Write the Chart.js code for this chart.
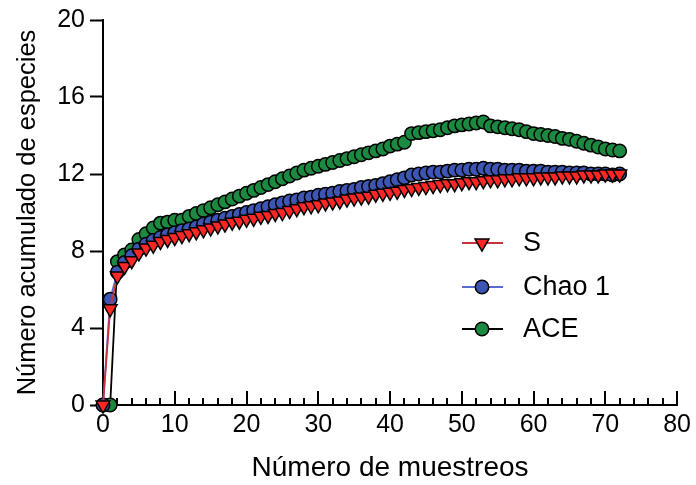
<!DOCTYPE html>
<html>
<head>
<meta charset="utf-8">
<script src="https://cdn.jsdelivr.net/npm/chart.js@4"></script>
<style>
  html, body { margin: 0; padding: 0; background: #fff; }
  #wrap { width: 696px; height: 485px; }
</style>
</head>
<body>
<div id="wrap"><canvas id="chart"></canvas></div>
<script>
// number of samples, 0..72
const samples = Array.from({ length: 73 }, (_, i) => i);

const sValues = [
  0, 5.0, 6.7, 7.2, 7.5, 7.9, 8.15, 8.3, 8.5, 8.6,
  8.7, 8.8, 8.9, 9.0, 9.1, 9.2, 9.3, 9.4, 9.5, 9.55,
  9.65, 9.7, 9.8, 9.85, 9.95, 10.0, 10.1, 10.2, 10.3, 10.35,
  10.4, 10.5, 10.55, 10.6, 10.7, 10.75, 10.8, 10.85, 10.95, 11.0,
  11.05, 11.1, 11.2, 11.25, 11.3, 11.35, 11.4, 11.45, 11.5, 11.5,
  11.55, 11.6, 11.6, 11.65, 11.7, 11.7, 11.75, 11.75, 11.8, 11.8,
  11.8, 11.85, 11.85, 11.85, 11.9, 11.9, 11.9, 11.95, 11.95, 11.95,
  12.0, 12.0, 12.0
];
const chaoValues = [
  0, 5.5, 6.9, 7.4, 7.75, 8.1, 8.35, 8.55, 8.7, 8.85,
  8.95, 9.05, 9.15, 9.25, 9.4, 9.5, 9.6, 9.7, 9.8, 9.9,
  10.0, 10.1, 10.2, 10.3, 10.4, 10.5, 10.6, 10.65, 10.75, 10.8,
  10.9, 10.95, 11.0, 11.1, 11.15, 11.2, 11.3, 11.35, 11.4, 11.5,
  11.6, 11.7, 11.8, 11.95, 12.0, 12.05, 12.1, 12.1, 12.15, 12.2,
  12.2, 12.25, 12.25, 12.3, 12.25, 12.25, 12.2, 12.2, 12.2, 12.15,
  12.15, 12.15, 12.1, 12.1, 12.1, 12.05, 12.05, 12.05, 12.0, 12.0,
  12.0, 11.95, 12.0
];
const aceValues = [
  0, 0, 7.45, 7.8, 8.05, 8.6, 8.9, 9.2, 9.45, 9.5,
  9.6, 9.6, 9.8, 9.95, 10.1, 10.25, 10.4, 10.55, 10.7, 10.85,
  11.0, 11.15, 11.3, 11.45, 11.6, 11.75, 11.9, 12.05, 12.2, 12.3,
  12.4, 12.5, 12.6, 12.7, 12.8, 12.9, 13.0, 13.1, 13.2, 13.3,
  13.45, 13.55, 13.65, 14.1, 14.15, 14.2, 14.25, 14.3, 14.4, 14.5,
  14.55, 14.6, 14.65, 14.7, 14.5, 14.45, 14.4, 14.35, 14.3, 14.2,
  14.1, 14.05, 14.0, 13.95, 13.85, 13.8, 13.7, 13.6, 13.5, 13.4,
  13.3, 13.25, 13.2
];

const FONT = "'Liberation Sans', Arial, sans-serif";

const SERIES = [
  { label: 'S', values: sValues, fill: '#ff2626', line: '#c8323c', style: 'triangle', rotation: 180, radius: 8 },
  { label: 'Chao 1', values: chaoValues, fill: '#3d56b4', line: '#5b6cd0', style: 'circle', rotation: 0, radius: 6.7 },
  { label: 'ACE', values: aceValues, fill: '#1b8a40', line: '#000000', style: 'circle', rotation: 0, radius: 6.7 }
];

// inward ticks on the x axis (major every 10, minor every 2)
const xTickMarks = {
  id: 'xTickMarks',
  beforeDatasetsDraw(chart) {
    const { ctx, scales: { x, y } } = chart;
    const base = y.getPixelForValue(0);
    ctx.save();
    ctx.strokeStyle = '#000';
    ctx.lineWidth = 2;
    for (let v = 2; v <= 80; v += 2) {
      const px = Math.round(x.getPixelForValue(v));
      const len = v % 10 === 0 ? 14 : 7;
      ctx.beginPath();
      ctx.moveTo(px, base);
      ctx.lineTo(px, base - len);
      ctx.stroke();
    }
    ctx.restore();
  }
};

// legend with line + marker, placed inside the plot
const lineLegend = {
  id: 'lineLegend',
  afterDraw(chart) {
    const ctx = chart.ctx;
    const rows = [243, 287, 329];
    ctx.save();
    SERIES.forEach((s, i) => {
      const cy = rows[i];
      ctx.strokeStyle = s.line;
      ctx.lineWidth = 2;
      ctx.beginPath();
      ctx.moveTo(462, cy);
      ctx.lineTo(503, cy);
      ctx.stroke();
      ctx.fillStyle = s.fill;
      ctx.strokeStyle = '#000';
      ctx.lineWidth = 1.5;
      Chart.helpers.drawPoint(ctx, { pointStyle: s.style, rotation: s.rotation, radius: s.radius, borderWidth: 1.5 }, 482, cy);
      ctx.fillStyle = '#000';
      ctx.font = '27px ' + FONT;
      ctx.textBaseline = 'middle';
      ctx.textAlign = 'left';
      ctx.fillText(s.label, 523, cy + 1);
    });
    ctx.restore();
  }
};

new Chart(document.getElementById('chart'), {
  type: 'line',
  data: {
    labels: samples,
    datasets: SERIES.map(s => ({
      label: s.label,
      data: samples.map((n, i) => ({ x: n, y: s.values[i] })),
      borderColor: s.line,
      borderWidth: 1.8,
      backgroundColor: s.fill,
      pointStyle: s.style,
      rotation: s.rotation,
      pointRadius: s.radius,
      pointBorderColor: '#000',
      pointBorderWidth: 1.5,
      pointBackgroundColor: s.fill,
      tension: 0,
      clip: false
    }))
  },
  options: {
    responsive: true,
    maintainAspectRatio: false,
    animation: false,
    layout: { padding: { top: 20, right: 16, left: 0, bottom: 0 } },
    plugins: {
      legend: { display: false },
      tooltip: { enabled: false }
    },
    scales: {
      x: {
        type: 'linear',
        min: 0,
        max: 80,
        afterFit(scale) { scale.height = 80; },
        border: { color: '#000', width: 2 },
        grid: { drawOnChartArea: false, drawTicks: false },
        ticks: {
          stepSize: 10,
          color: '#000',
          padding: 5,
          maxRotation: 0,
          font: { family: FONT, size: 25 }
        },
        title: {
          display: true,
          text: 'Número de muestreos',
          color: '#000',
          padding: { top: 0, bottom: 0 },
          font: { family: FONT, size: 28 }
        }
      },
      y: {
        min: 0,
        max: 20,
        afterFit(scale) { scale.width = 103; },
        border: { color: '#000', width: 2 },
        grid: { drawOnChartArea: false, drawTicks: true, tickLength: 13, tickWidth: 2, tickColor: '#000' },
        ticks: {
          stepSize: 4,
          color: '#000',
          padding: 5,
          font: { family: FONT, size: 25 }
        },
        title: {
          display: true,
          text: 'Número acumulado de especies',
          color: '#000',
          padding: { top: 13, bottom: 0 },
          font: { family: FONT, size: 25.5 }
        }
      }
    }
  },
  plugins: [xTickMarks, lineLegend]
});
</script>
</body>
</html>
